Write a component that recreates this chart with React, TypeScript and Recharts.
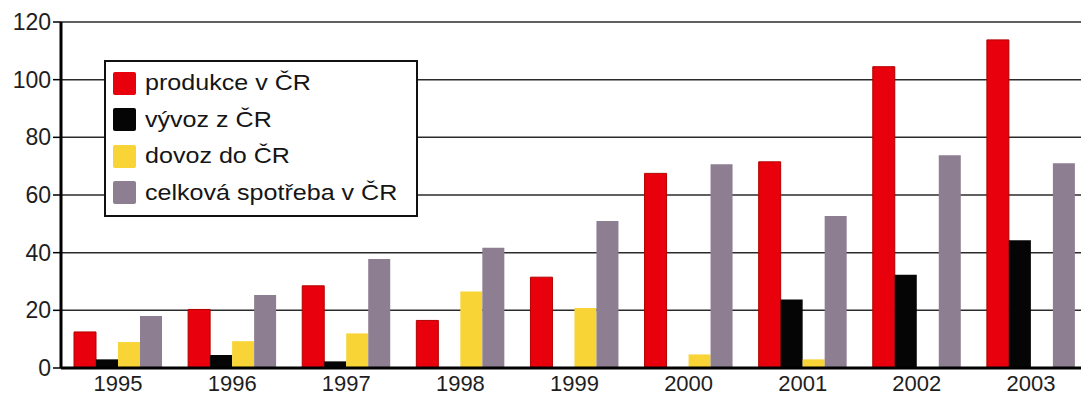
import { BarChart, Bar, XAxis, YAxis, CartesianGrid, Legend } from 'recharts'

// Roky a hodnoty jednotlivých řad
const years = ['1995', '1996', '1997', '1998', '1999', '2000', '2001', '2002', '2003']
const produkce = [12.5, 20.3, 28.5, 16.5, 31.5, 67.5, 71.5, 104.5, 113.8]
const vyvoz = [3, 4.5, 2.3, 0, 0, 0, 23.8, 32.3, 44.3]
const dovoz = [9, 9.3, 12, 26.5, 20.8, 4.7, 3, 0, 0]
const spotreba = [18, 25.3, 37.8, 41.7, 51, 70.7, 52.7, 73.8, 71]
const yTicks = [0, 20, 40, 60, 80, 100, 120]
const seriesNames = ['produkce v ČR', 'vývoz z ČR', 'dovoz do ČR', 'celková spotřeba v ČR']

const data = years.map((year, i) => ({
  year,
  produkce: produkce[i],
  vyvoz: vyvoz[i],
  dovoz: dovoz[i],
  spotreba: spotreba[i],
}))

const FONT = '"Liberation Sans", Arial, Helvetica, sans-serif'

function LegendBox(props: any) {
  // legenda v pořadí řad, ne abecedně
  const items = [...(props.payload || [])].sort(
    (a: any, b: any) => seriesNames.indexOf(a.value) - seriesNames.indexOf(b.value)
  )
  return (
    <div
      style={{
        border: '2px solid #111',
        background: '#fff',
        paddingTop: 3,
        paddingBottom: 4,
        paddingLeft: 7,
        boxSizing: 'border-box',
        width: 314,
        fontFamily: FONT,
      }}
    >
      {items.map((item: any) => (
        <div key={item.value} style={{ height: 36.5, display: 'flex', alignItems: 'center' }}>
          <span
            style={{
              display: 'inline-block',
              width: 23,
              height: 23,
              borderRadius: 2,
              background: item.color,
              marginRight: 9,
              flex: 'none',
            }}
          />
          <span
            style={{
              display: 'inline-block',
              fontSize: 22,
              color: '#151515',
              whiteSpace: 'nowrap',
              transform: 'scaleX(1.14)',
              transformOrigin: 'left center',
            }}
          >
            {item.value}
          </span>
        </div>
      ))}
    </div>
  )
}

export default function App() {
  return (
    <div
      style={{
        position: 'absolute',
        left: 0,
        top: 0,
        width: 1081,
        height: 396,
        overflow: 'hidden',
        background: '#fff',
      }}
    >
      <BarChart
        width={1100}
        height={396}
        data={data}
        margin={{ top: 22, right: 12, left: 0, bottom: 0 }}
        barCategoryGap={13}
        barGap={0}
      >
        <CartesianGrid vertical={false} stroke="#2b2b2b" strokeWidth={1.5} />
        <XAxis
          dataKey="year"
          height={28}
          tickSize={0}
          tickMargin={7}
          axisLine={{ stroke: '#000', strokeWidth: 3 }}
          tick={{ fontSize: 22, fill: '#1e1e1e', fontFamily: FONT }}
        />
        <YAxis
          width={61}
          domain={[0, 120]}
          ticks={yTicks}
          tickSize={8}
          tickMargin={2}
          axisLine={{ stroke: '#000', strokeWidth: 3 }}
          tickLine={{ stroke: '#000', strokeWidth: 1.5 }}
          tick={{ fontSize: 23, fill: '#1e1e1e', fontFamily: FONT }}
        />
        <Legend
          layout="vertical"
          align="center"
          verticalAlign="middle"
          wrapperStyle={{ left: 104, top: 60, width: 314 }}
          content={<LegendBox />}
        />
        <Bar dataKey="produkce" name={seriesNames[0]} fill="#e8000c" stroke="#b30000" strokeWidth={1} isAnimationActive={false} />
        <Bar dataKey="vyvoz" name={seriesNames[1]} fill="#050505" isAnimationActive={false} />
        <Bar dataKey="dovoz" name={seriesNames[2]} fill="#f8d436" isAnimationActive={false} />
        <Bar dataKey="spotreba" name={seriesNames[3]} fill="#8d7e91" isAnimationActive={false} />
      </BarChart>
    </div>
  )
}
